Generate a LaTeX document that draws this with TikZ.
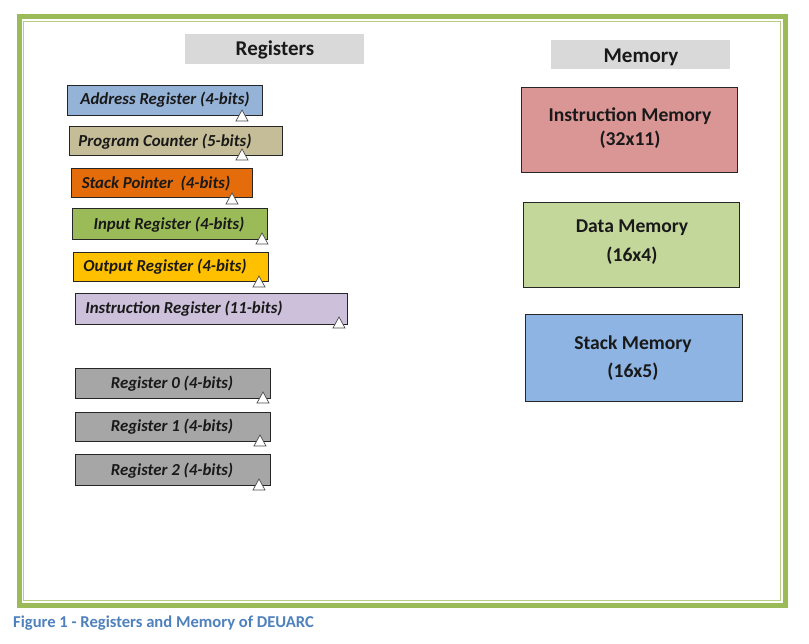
\documentclass[tikz,border=0pt]{standalone}
\usepackage{fontspec}
\setmainfont{Carlito}
\begin{document}
\begin{tikzpicture}[x=1pt,y=-1pt,
  box/.style={draw=black!85, line width=0.9pt, inner sep=0pt},
  hdr/.style={fill=hdrgray, inner sep=0pt},
  regtext/.style={inner sep=0pt, yshift=-1.5pt, font=\fontsize{16.8}{18}\selectfont\bfseries\itshape, text=black!90},
  memtext/.style={inner sep=0pt, yshift=-2pt, font=\fontsize{19.6}{21}\selectfont\bfseries, text=black!90},
  hdrtext/.style={inner sep=0pt, yshift=-2pt, font=\fontsize{21}{23}\selectfont\bfseries, text=black!90},
  tri/.style={draw=black!70, fill=white, line width=0.7pt, line join=miter}
]
\definecolor{hdrgray}{HTML}{D9D9D9}
\definecolor{frameg}{HTML}{9BBB59}
\definecolor{framel}{HTML}{B5CE7F}
\definecolor{capblue}{HTML}{4F81BD}
\definecolor{cAR}{HTML}{95B3D7}
\definecolor{cPC}{HTML}{C4BD97}
\definecolor{cSP}{HTML}{E46C0A}
\definecolor{cIN}{HTML}{9BBB59}
\definecolor{cOUT}{HTML}{FFC000}
\definecolor{cIR}{HTML}{CCC0DA}
\definecolor{cGR}{HTML}{A6A6A6}
\definecolor{cIM}{HTML}{DA9694}
\definecolor{cDM}{HTML}{C4D79B}
\definecolor{cSM}{HTML}{8DB4E2}

\useasboundingbox[fill=white] (0,0) rectangle (809,644);

% frame
\draw[frameg, line width=5pt] (19.5,16.5) rectangle (785.5,605.5);
\draw[framel, line width=1.3pt] (23.5,21.5) rectangle (780.5,600.5);

% headers
\node[hdr, minimum width=179pt, minimum height=30pt] (hreg) at (274.5,49) {};
\node[hdrtext] (hregt) at (275,48) {Registers};
\node[hdr, minimum width=179pt, minimum height=29pt] (hmem) at (640.5,54.5) {};
\node[hdrtext] (hmemt) at (641,55) {Memory};

% registers: boxes
\node[box, fill=cAR, minimum width=195pt, minimum height=30pt] (ar) at (164.5,100) {};
\node[box, fill=cPC, minimum width=213pt, minimum height=29pt] (pc) at (175.5,140.5) {};
\node[box, fill=cSP, minimum width=181pt, minimum height=29pt] (sp) at (161.5,182.5) {};
\node[box, fill=cIN, minimum width=195pt, minimum height=31pt] (in) at (169.5,223.5) {};
\node[box, fill=cOUT, minimum width=195pt, minimum height=29pt] (out) at (170.5,266.5) {};
\node[box, fill=cIR, minimum width=272pt, minimum height=31pt] (ir) at (211,308.5) {};
\node[box, fill=cGR, minimum width=195pt, minimum height=30pt] (r0) at (172.5,383) {};
\node[box, fill=cGR, minimum width=195pt, minimum height=29pt] (r1) at (172.5,426.5) {};
\node[box, fill=cGR, minimum width=195pt, minimum height=31pt] (r2) at (172.5,469.5) {};

% registers: texts
\node[regtext] (art) at (165,98) {Address Register (4-bits)};
\node[regtext] (pct) at (165,140) {Program Counter (5-bits)};
\node[regtext] (spt) at (156,182) {Stack Pointer\ \ (4-bits)};
\node[regtext] (int) at (169,223) {Input Register (4-bits)};
\node[regtext] (outt) at (165,265) {Output Register (4-bits)};
\node[regtext] (irt) at (184,307) {Instruction Register (11-bits)};
\node[regtext] (r0t) at (172,382) {Register 0 (4-bits)};
\node[regtext] (r1t) at (172,425) {Register 1 (4-bits)};
\node[regtext] (r2t) at (172,469) {Register 2 (4-bits)};

% clock triangles
\draw[tri] (236,121) -- (242,110) -- (248,121) -- cycle;
\draw[tri] (236,160) -- (242,149) -- (248,160) -- cycle;
\draw[tri] (226,204) -- (232,193) -- (238,204) -- cycle;
\draw[tri] (256,244) -- (262,233) -- (268,244) -- cycle;
\draw[tri] (253,287) -- (259,276) -- (265,287) -- cycle;
\draw[tri] (333,328) -- (339,317) -- (345,328) -- cycle;
\draw[tri] (257,403) -- (263,392) -- (269,403) -- cycle;
\draw[tri] (254,446) -- (260,435) -- (266,446) -- cycle;
\draw[tri] (253,490) -- (259,479) -- (265,490) -- cycle;

% memory
\node[box, fill=cIM, minimum width=216pt, minimum height=85pt] (im) at (629,129.5) {};
\node[memtext] (imt1) at (630,114) {Instruction Memory};
\node[memtext] (imt2) at (630,138) {(32x11)};
\node[box, fill=cDM, minimum width=216pt, minimum height=85pt] (dm) at (631,244.5) {};
\node[memtext] (dmt1) at (632,226) {Data Memory};
\node[memtext] (dmt2) at (632,254) {(16x4)};
\node[box, fill=cSM, minimum width=217pt, minimum height=87pt] (sm) at (633.5,357.5) {};
\node[memtext] (smt1) at (633,342) {Stack Memory};
\node[memtext] (smt2) at (633,370) {(16x5)};

% caption
\node[anchor=west, inner sep=0pt, yshift=-2pt, font=\fontsize{16.6}{18}\selectfont\bfseries, text=capblue] (cap) at (13,621) {Figure 1 - Registers and Memory of DEUARC};
\end{tikzpicture}
\end{document}
